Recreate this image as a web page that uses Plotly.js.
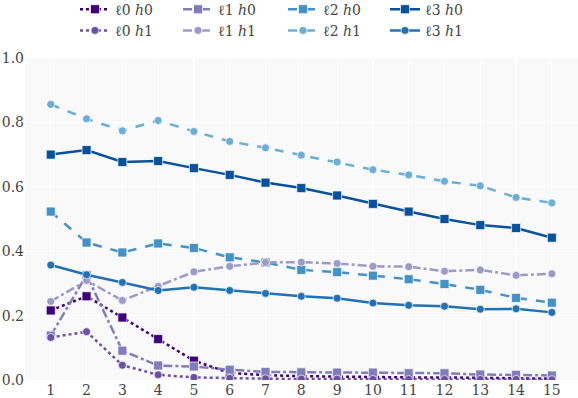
<!DOCTYPE html>
<html>
<head>
<meta charset="utf-8">
<script src="https://cdn.plot.ly/plotly-3.0.1.min.js"></script>
<style>html,body{margin:0;padding:0;background:#fff;}#chart{width:578px;height:398px;}</style>
</head>
<body>
<div id="chart"></div>
<script>
const steps = [1,2,3,4,5,6,7,8,9,10,11,12,13,14,15];
const l0h0 = [0.216,0.260,0.194,0.127,0.060,0.022,0.015,0.012,0.010,0.010,0.008,0.008,0.006,0.005,0.004];
const l1h0 = [0.138,0.326,0.091,0.045,0.042,0.032,0.025,0.024,0.023,0.023,0.021,0.021,0.017,0.016,0.014];
const l2h0 = [0.523,0.427,0.396,0.424,0.410,0.381,0.365,0.342,0.335,0.324,0.313,0.298,0.280,0.255,0.240];
const l3h0 = [0.700,0.714,0.677,0.680,0.658,0.637,0.613,0.596,0.573,0.547,0.523,0.500,0.481,0.472,0.442];
const l0h1 = [0.132,0.150,0.046,0.016,0.008,0.005,0.004,0.003,0.003,0.002,0.002,0.002,0.002,0.002,0.001];
const l1h1 = [0.244,0.309,0.247,0.291,0.336,0.353,0.365,0.366,0.362,0.353,0.352,0.338,0.342,0.325,0.330];
const l2h1 = [0.856,0.811,0.774,0.806,0.772,0.741,0.721,0.698,0.677,0.653,0.637,0.617,0.603,0.567,0.550];
const l3h1 = [0.357,0.327,0.303,0.278,0.288,0.278,0.269,0.260,0.254,0.239,0.232,0.229,0.220,0.221,0.210];
const names = ['ℓ0 <i>h</i>0','ℓ1 <i>h</i>0','ℓ2 <i>h</i>0','ℓ3 <i>h</i>0','ℓ0 <i>h</i>1','ℓ1 <i>h</i>1','ℓ2 <i>h</i>1','ℓ3 <i>h</i>1'];
const series = [l0h0,l1h0,l2h0,l3h0,l0h1,l1h1,l2h1,l3h1];
const colors = ['#3f007d','#807dba','#4292c6','#08519c','#6a51a3','#9e9ac8','#6baed6','#2171b5'];
const dashes = ['dot','dashdot','dash','solid','dot','dashdot','dash','solid'];
const symbols = ['square','square','square','square','circle','circle','circle','circle'];
const legendIds = ['legend','legend2','legend3','legend4'];

const traces = series.map((ys,i)=>({
  x: steps, y: ys, type:'scatter', mode:'lines+markers', name: names[i],
  legend: legendIds[i % 4],
  line:{color:colors[i], width:2.5, dash:dashes[i]},
  marker:{symbol:symbols[i], size: i<4?9:8, color:colors[i], line:{color:'rgba(255,255,255,0.7)', width:1}}
}));

const F = "'DejaVu Serif', 'Liberation Serif', serif";
const legendX = [75, 178, 283, 385];
function mkLegend(px){
  return {orientation:'v', xref:'container', x:px/578, xanchor:'left', yref:'paper', y:1.2, yanchor:'top',
          font:{family:F, size:14, color:'#444'}, bgcolor:'rgba(0,0,0,0)', traceorder:'normal', tracegroupgap:0};
}
const layout = {
  width:578, height:398,
  margin:{l:25, r:0, t:58, b:18, autoexpand:false},
  paper_bgcolor:'#ffffff', plot_bgcolor:'#f9f9f9',
  font:{family:F, size:14, color:'#444'},
  showlegend:true,
  legend: mkLegend(legendX[0]), legend2: mkLegend(legendX[1]),
  legend3: mkLegend(legendX[2]), legend4: mkLegend(legendX[3]),
  xaxis:{range:[0.28,15.73], tickvals:steps, showgrid:true, gridcolor:'#ffffff', gridwidth:1.2,
         zeroline:false, showline:false, ticks:'', tickfont:{family:F, size:14, color:'#444'}},
  yaxis:{range:[0,1], tickvals:[0,0.2,0.4,0.6,0.8,1.0], ticktext:['0.0','0.2','0.4','0.6','0.8','1.0'],
         showgrid:true, gridcolor:'#ffffff', gridwidth:1.2, zeroline:false, showline:false, ticks:'',
         tickfont:{family:F, size:14, color:'#444'}}
};
Plotly.newPlot('chart', traces, layout, {displayModeBar:false, staticPlot:true});
</script>
</body>
</html>
